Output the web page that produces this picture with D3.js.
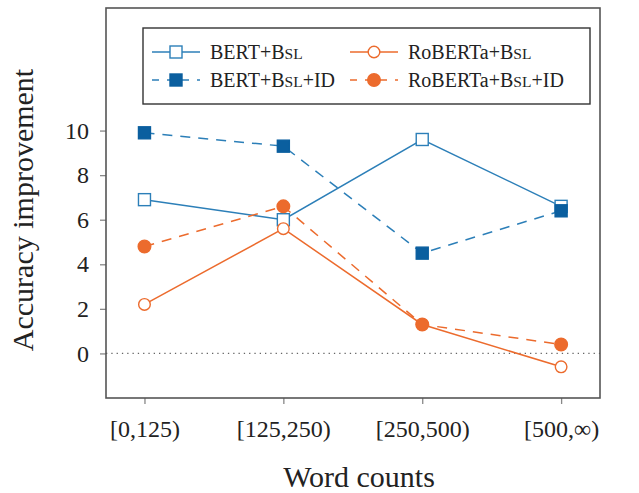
<!DOCTYPE html>
<html>
<head>
<meta charset="utf-8">
<script src="https://cdn.jsdelivr.net/npm/d3@7"></script>
<style>
  body { margin: 0; background: #fff; }
  text { font-family: "Liberation Serif", "DejaVu Serif", serif; fill: #222; }
</style>
</head>
<body>
<div id="chart"></div>
<script>
// categories and values
var categories = ["[0,125)", "[125,250)", "[250,500)", "[500,\u221e)"];
var bertBsl = [6.9, 6.0, 9.6, 6.6];
var robertaBsl = [2.2, 5.6, 1.3, -0.6];
var bertBslId = [9.9, 9.3, 4.5, 6.4];
var robertaBslId = [4.8, 6.6, 1.3, 0.4];
var yTicks = [0, 2, 4, 6, 8, 10];

var blue = "#2c7fb8", blueDark = "#0b5f9f", orange = "#ec6b2d";

// series in legend order (row by row)
var series = [
  { name: "BERT+B", tail: "", values: bertBsl, color: blue, fill: "#fff", dash: null, shape: "square" },
  { name: "RoBERTa+B", tail: "", values: robertaBsl, color: orange, fill: "#fff", dash: null, shape: "circle" },
  { name: "BERT+B", tail: "+ID", values: bertBslId, color: blue, fill: blueDark, dash: "10,8", shape: "square" },
  { name: "RoBERTa+B", tail: "+ID", values: robertaBslId, color: orange, fill: orange, dash: "10,8", shape: "circle" }
];

var width = 639, height = 493;
var plotLeft = 106, plotRight = 600, plotTop = 8, plotBottom = 398;

var svg = d3.select("#chart")
  .append("svg")
  .attr("width", width)
  .attr("height", height);

var x = d3.scaleLinear()
  .domain([-0.277, 3.28])
  .range([plotLeft, plotRight]);

var y = d3.scaleLinear()
  .domain([-2, 15.5])
  .range([plotBottom, plotTop]);

// zero line
svg.append("line")
  .attr("x1", plotLeft).attr("x2", plotRight)
  .attr("y1", y(0)).attr("y2", y(0))
  .attr("stroke", "#666")
  .attr("stroke-width", 1.3)
  .attr("stroke-dasharray", "1.3,4");

// axes
var yAxis = svg.append("g")
  .attr("transform", "translate(" + plotLeft + ",0)")
  .call(d3.axisLeft(y).tickValues(yTicks).tickSize(6).tickPadding(11));
yAxis.selectAll("text").style("font-size", "24px").style("font-family", "Liberation Serif").attr("fill", "#222");

var xAxis = svg.append("g")
  .attr("transform", "translate(0," + plotBottom + ")")
  .call(d3.axisBottom(x).tickValues([0, 1, 2, 3]).tickFormat(function (i) { return categories[i]; }).tickSize(6).tickPadding(16));
xAxis.selectAll("text").style("font-size", "24px").style("font-family", "Liberation Serif").attr("fill", "#222");

svg.selectAll(".domain").remove();
svg.selectAll(".tick line").attr("stroke", "#888").attr("stroke-width", 1.3);

// frame
svg.append("rect")
  .attr("x", plotLeft).attr("y", plotTop)
  .attr("width", plotRight - plotLeft).attr("height", plotBottom - plotTop)
  .attr("fill", "none")
  .attr("stroke", "#555")
  .attr("stroke-width", 1.6);

// axis titles
svg.append("text")
  .attr("x", (plotLeft + plotRight) / 2 + 6)
  .attr("y", 487)
  .attr("text-anchor", "middle")
  .style("font-size", "30px")
  .text("Word counts");

svg.append("text")
  .attr("transform", "translate(33," + 210 + ") rotate(-90)")
  .attr("text-anchor", "middle")
  .style("font-size", "30px")
  .text("Accuracy improvement");

function drawMarker(g, s, cx, cy) {
  if (s.shape === "square") {
    g.append("rect")
      .attr("x", cx - 6).attr("y", cy - 6)
      .attr("width", 12).attr("height", 12)
      .attr("fill", s.fill)
      .attr("stroke", s.dash ? s.fill : s.color)
      .attr("stroke-width", 1.4);
  } else {
    g.append("circle")
      .attr("cx", cx).attr("cy", cy)
      .attr("r", s.dash ? 6.3 : 5.8)
      .attr("fill", s.fill)
      .attr("stroke", s.color)
      .attr("stroke-width", 1.4);
  }
}

var line = d3.line()
  .x(function (d, i) { return x(i); })
  .y(function (d) { return y(d); });

series.forEach(function (s) {
  var g = svg.append("g");
  g.append("path")
    .attr("d", line(s.values))
    .attr("fill", "none")
    .attr("stroke", s.color)
    .attr("stroke-width", 1.5)
    .attr("stroke-dasharray", s.dash);
  s.values.forEach(function (v, i) {
    drawMarker(g, s, x(i), y(v));
  });
});

// legend
var legend = svg.append("g");
legend.append("rect")
  .attr("x", 143).attr("y", 28)
  .attr("width", 447).attr("height", 76)
  .attr("fill", "#fff")
  .attr("stroke", "#333")
  .attr("stroke-width", 1.4);

series.forEach(function (s, i) {
  var col = i % 2, row = Math.floor(i / 2);
  var lx = col === 0 ? 152 : 350;
  var ly = row === 0 ? 52 : 80;
  var g = legend.append("g");
  g.append("line")
    .attr("x1", lx).attr("x2", lx + 48)
    .attr("y1", ly).attr("y2", ly)
    .attr("stroke", s.color)
    .attr("stroke-width", 1.5)
    .attr("stroke-dasharray", s.dash ? "7,8" : null);
  drawMarker(g, s, lx + 24, ly);
  var t = g.append("text")
    .attr("x", lx + 58)
    .attr("y", ly + 6.5)
    .style("font-size", "20px");
  t.append("tspan").text(s.name);
  t.append("tspan").style("font-size", "15.5px").text("SL");
  t.append("tspan").text(s.tail);
});
</script>
</body>
</html>
